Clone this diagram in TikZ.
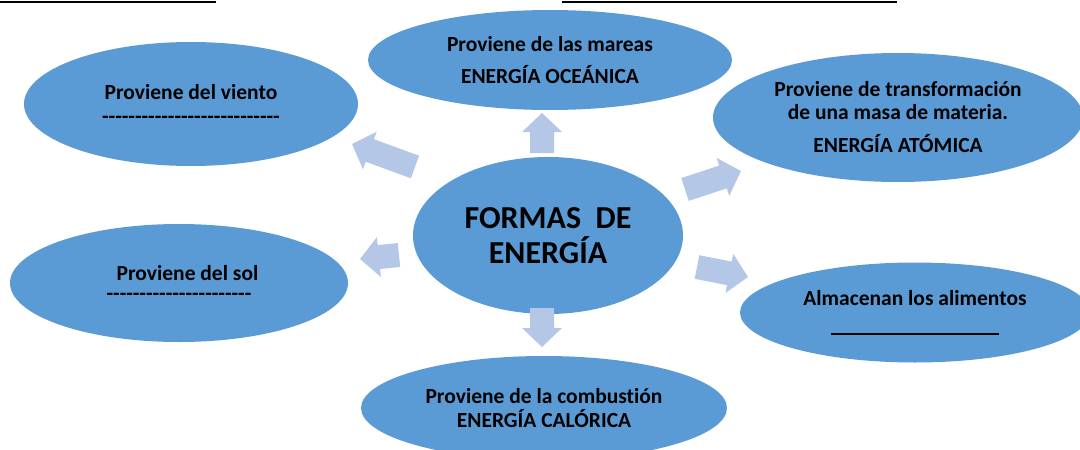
\documentclass[tikz,border=0pt]{standalone}
\usepackage{fontspec}
\setmainfont{Carlito}[Ligatures=NoCommon]
\usepackage{xcolor}
\usetikzlibrary{shapes.geometric,calc}

\definecolor{bubbleblue}{RGB}{91,155,213}
\definecolor{arrowblue}{RGB}{180,199,231}

\newcommand\fillin[1]{\foreach \k in {1,...,#1}{\mbox{-}}}
\newcommand\blockarrow[2]{%
  \coordinate (h) at ($(#2)!19pt!(#1)$);
  \fill[arrowblue] ($(#1)!12pt!90:(h)$) -- ($(h)!12pt!-90:(#1)$)
    -- ($(h)!20pt!-90:(#1)$) -- (#2) -- ($(h)!20pt!90:(#1)$)
    -- ($(h)!12pt!90:(#1)$) -- ($(#1)!12pt!-90:(h)$) -- cycle;}

\tikzset{
  bubble/.style={ellipse, fill=bubbleblue, inner sep=0pt, align=center,
    font=\bfseries\fontsize{21.5}{24}\selectfont},
  hub/.style={bubble, font=\bfseries\fontsize{32}{35}\selectfont}
}

\begin{document}
\begin{tikzpicture}[x=1pt,y=-1pt]
    \useasboundingbox (0,0) rectangle (1080,450);

    % Top underlines
    \draw[line width=1.5pt] (0,2) -- (216,2);
    \draw[line width=1.5pt] (562,2) -- (897,2);

    % Bubbles
    \node[hub, minimum width=270pt, minimum height=157pt] (formas) at (548,235.5)
      {FORMAS~~DE\\ENERGÍA};
    \node[bubble, minimum width=364pt, minimum height=100pt] (mareas) at (550,60)
      {Proviene de las mareas\\[8pt]ENERGÍA OCEÁNICA};
    \node[bubble, minimum width=334pt, minimum height=124pt] (viento) at (191,104)
      {Proviene del viento\\\fillin{27}};
    \node[bubble, minimum width=370pt, minimum height=129pt] (atomica) at (898,117.5)
      {Proviene de transformación\\[-1pt]de una masa de materia.\\[9pt]ENERGÍA ATÓMICA};
    \node[bubble, minimum width=338pt, minimum height=118pt] (sol) at (179,283)
      {\hspace*{17pt}Proviene del sol\\[-4pt]\fillin{22}};
    \node[bubble, minimum width=350pt, minimum height=100pt] (alimentos) at (915,312.5)
      {Almacenan los alimentos\\[3pt]\rule[-3pt]{168pt}{1.6pt}};
    \node[bubble, minimum width=366pt, minimum height=104pt] (calorica) at (544,408)
      {Proviene de la combustión\\ENERGÍA CALÓRICA};

    % Arrow ends
    \coordinate (up-tail) at (542,153);
    \coordinate (up-tip) at (542,113);
    \coordinate (down-tail) at (542,308);
    \coordinate (down-tip) at (542,347);
    \coordinate (ul-tail) at (415,167);
    \coordinate (ul-tip) at (352,144);
    \coordinate (ll-tail) at (399,255);
    \coordinate (ll-tip) at (360,259);
    \coordinate (ur-tail) at (685,189.5);
    \coordinate (ur-tip) at (741,171);
    \coordinate (lr-tail) at (697,267);
    \coordinate (lr-tip) at (748,277);

    \blockarrow{up-tail}{up-tip}
    \blockarrow{down-tail}{down-tip}
    \blockarrow{ul-tail}{ul-tip}
    \blockarrow{ll-tail}{ll-tip}
    \blockarrow{ur-tail}{ur-tip}
    \blockarrow{lr-tail}{lr-tip}

\end{tikzpicture}
\end{document}
